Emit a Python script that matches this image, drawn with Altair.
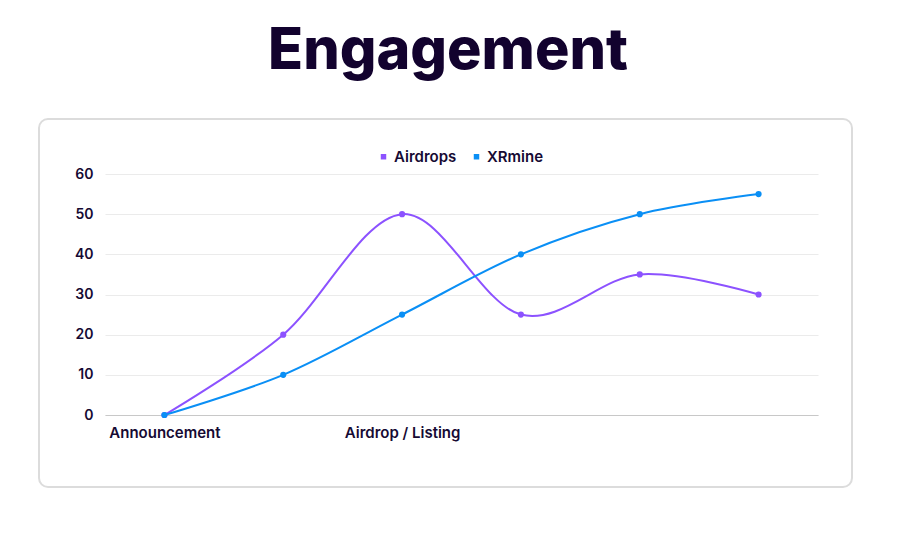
import altair as alt
import pandas as pd

title_text = "Engagement"
steps = [0, 1, 2, 3, 4, 5]
tick_labels = ["Announcement", "", "Airdrop / Listing", "", "", ""]
series_names = ["Airdrops", "XRmine"]
airdrops = [0, 20, 50, 25, 35, 30]
xrmine = [0, 10, 25, 40, 50, 55]
colors = ["#8c52ff", "#0a8ff5"]

rows = []
for i, s in enumerate(steps):
    rows.append({"step": s, "series": series_names[0], "value": airdrops[i]})
for i, s in enumerate(steps):
    rows.append({"step": s, "series": series_names[1], "value": xrmine[i]})
df = pd.DataFrame(rows)

label_expr = "[" + ",".join("'" + t + "'" for t in tick_labels) + "][datum.value]"

FONT = "Inter"
DARK = "#160a33"

x_enc = alt.X("step:O", scale=alt.Scale(type="point", padding=0.5),
              axis=alt.Axis(title=None, labelAngle=0, labelExpr=label_expr,
                            ticks=False, domain=True, domainColor="#c8c8c8",
                            labelPadding=10, labelFont=FONT, labelFontSize=15,
                            labelFontWeight=600, labelColor=DARK, grid=False))
y_enc = alt.Y("value:Q", scale=alt.Scale(domain=[0, 60], nice=False),
              axis=alt.Axis(title=None, values=[0, 10, 20, 30, 40, 50, 60],
                            ticks=False, domain=False, gridColor="#ebebeb",
                            labelPadding=12, labelFont=FONT, labelFontSize=14,
                            labelFontWeight=600, labelColor=DARK))
color_enc = alt.Color("series:N", scale=alt.Scale(domain=series_names, range=colors),
                      legend=alt.Legend(title=None, orient="none", legendX=271, legendY=-25,
                                        direction="horizontal", symbolType="square",
                                        symbolSize=30, labelFont=FONT, labelFontSize=15,
                                        labelFontWeight=600, labelColor=DARK, labelOffset=3,
                                        columnPadding=12, symbolStrokeWidth=0))

box = alt.Chart(pd.DataFrame({"a": [1]})).mark_rect(
    fill="white", fillOpacity=0, stroke="#dcdcdc", strokeWidth=2, cornerRadius=9
).encode(x=alt.value(-66), x2=alt.value(747), y=alt.value(-55), y2=alt.value(313))

title = alt.Chart(pd.DataFrame({"t": [title_text]})).mark_text(
    font=FONT, fontSize=57.5, fontWeight=800, color="#12022e", baseline="alphabetic", align="center"
).encode(text="t:N", x=alt.value(343), y=alt.value(-105))

lines = alt.Chart(df).mark_line(interpolate="cardinal", strokeWidth=2).encode(
    x=x_enc, y=y_enc, color=color_enc, detail="series:N")
points = alt.Chart(df).mark_point(filled=True, size=38, opacity=1).encode(
    x="step:O", y="value:Q", color=alt.Color("series:N", legend=None, scale=alt.Scale(domain=series_names, range=colors)))

chart = alt.layer(box, title, lines, points).properties(
    width=713, height=241,
    background="white",
    autosize=alt.AutoSizeParams(type="none"),
    padding={"left": 105, "top": 174, "right": 80, "bottom": 118},
).configure_view(stroke=None)

chart.save("out.html", embed_options={"renderer": "svg", "actions": False})
